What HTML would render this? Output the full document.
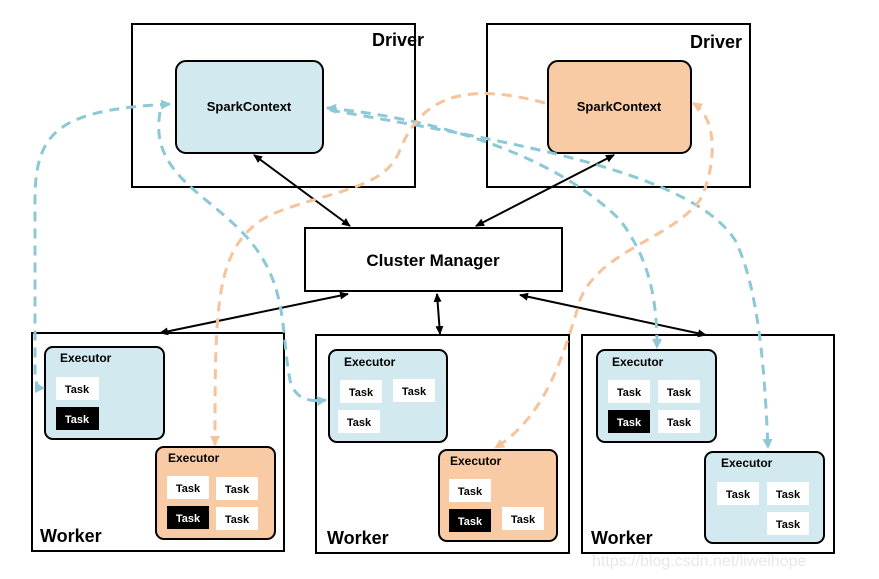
<!DOCTYPE html>
<html><head><meta charset="utf-8"><style>
html,body{margin:0;padding:0;background:#fff}
svg{display:block}
text{font-family:"Comic Sans MS","Liberation Sans",sans-serif;font-weight:bold;fill:#000}
</style></head><body>
<svg width="879" height="579" viewBox="0 0 879 579" xmlns="http://www.w3.org/2000/svg">
<defs>
<marker id="ab" markerWidth="10" markerHeight="10" refX="8" refY="5" orient="auto-start-reverse" markerUnits="userSpaceOnUse"><path d="M0,1 L9,5 L0,9 Z" fill="#000"/></marker>
<marker id="mb" markerWidth="12" markerHeight="12" refX="9" refY="6" orient="auto-start-reverse" markerUnits="userSpaceOnUse"><path d="M0,1 L10,6 L0,11 Z" fill="#8cc8d6"/></marker>
<marker id="mo" markerWidth="12" markerHeight="12" refX="9" refY="6" orient="auto-start-reverse" markerUnits="userSpaceOnUse"><path d="M0,1 L10,6 L0,11 Z" fill="#f6c39b"/></marker>
</defs>
<g fill="none" stroke="#000" stroke-width="2">
<rect x="132" y="24" width="283" height="163"/>
<rect x="487" y="24" width="263" height="163"/>
<rect x="305" y="228" width="257" height="63"/>
<rect x="32" y="333" width="252" height="218"/>
<rect x="316" y="335" width="253" height="218"/>
<rect x="582" y="335" width="252" height="218"/>
</g>
<rect x="176" y="61" width="147" height="92" rx="10" fill="#d2e9f0" stroke="#000" stroke-width="2"/>
<rect x="548" y="61" width="143" height="92" rx="10" fill="#f8cba5" stroke="#000" stroke-width="2"/>
<text x="372" y="46" font-size="18">Driver</text>
<text x="690" y="48" font-size="18">Driver</text>
<text x="249" y="111" font-size="13" text-anchor="middle">SparkContext</text>
<text x="619" y="111" font-size="13" text-anchor="middle">SparkContext</text>
<text x="433" y="266" font-size="17" text-anchor="middle">Cluster Manager</text>
<text x="40" y="542" font-size="18">Worker</text>
<text x="327" y="544" font-size="18">Worker</text>
<text x="591" y="544" font-size="18">Worker</text>
<g stroke="#000" stroke-width="2">
<rect x="45" y="347" width="119" height="92" rx="8" fill="#d2e9f0"/>
<rect x="156" y="447" width="119" height="92" rx="8" fill="#f8cba5"/>
<rect x="329" y="350" width="118" height="92" rx="8" fill="#d2e9f0"/>
<rect x="439" y="450" width="118" height="91" rx="8" fill="#f8cba5"/>
<rect x="597" y="350" width="119" height="92" rx="8" fill="#d2e9f0"/>
<rect x="705" y="452" width="119" height="91" rx="8" fill="#d2e9f0"/>
</g>
<g font-size="12">
<text x="60" y="362">Executor</text>
<text x="168" y="462">Executor</text>
<text x="344" y="366">Executor</text>
<text x="450" y="465">Executor</text>
<text x="612" y="366">Executor</text>
<text x="721" y="467">Executor</text>
</g>
<g fill="#fff">
<rect x="56" y="377" width="43" height="23"/>
<rect x="167" y="476" width="42" height="23"/><rect x="216" y="477" width="42" height="23"/><rect x="216" y="507" width="42" height="23"/>
<rect x="340" y="380" width="42" height="23"/><rect x="393" y="379" width="42" height="23"/><rect x="338" y="410" width="42" height="23"/>
<rect x="449" y="479" width="42" height="23"/><rect x="502" y="507" width="42" height="23"/>
<rect x="608" y="380" width="42" height="23"/><rect x="658" y="380" width="42" height="23"/><rect x="658" y="410" width="42" height="23"/>
<rect x="717" y="482" width="42" height="23"/><rect x="767" y="482" width="42" height="23"/><rect x="767" y="512" width="42" height="23"/>
</g>
<g fill="#000">
<rect x="56" y="407" width="43" height="23"/>
<rect x="167" y="506" width="42" height="23"/>
<rect x="449" y="509" width="42" height="23"/>
<rect x="608" y="410" width="42" height="23"/>
</g>
<g font-size="11" text-anchor="middle">
<text x="77" y="393">Task</text><text x="77" y="423" style="fill:#fff">Task</text>
<text x="188" y="492">Task</text><text x="237" y="493">Task</text><text x="188" y="522" style="fill:#fff">Task</text><text x="237" y="523">Task</text>
<text x="361" y="396">Task</text><text x="414" y="395">Task</text><text x="359" y="426">Task</text>
<text x="470" y="495">Task</text><text x="470" y="525" style="fill:#fff">Task</text><text x="523" y="523">Task</text>
<text x="629" y="396">Task</text><text x="679" y="396">Task</text><text x="629" y="426" style="fill:#fff">Task</text><text x="679" y="426">Task</text>
<text x="738" y="498">Task</text><text x="788" y="498">Task</text><text x="788" y="528">Task</text>
</g>
<g stroke="#000" stroke-width="2" fill="none">
<line x1="254" y1="155" x2="350" y2="226" marker-start="url(#ab)" marker-end="url(#ab)"/>
<line x1="614" y1="155" x2="476" y2="226" marker-start="url(#ab)" marker-end="url(#ab)"/>
<line x1="348" y1="294" x2="160" y2="333" marker-start="url(#ab)" marker-end="url(#ab)"/>
<line x1="437" y1="294" x2="440" y2="334" marker-start="url(#ab)" marker-end="url(#ab)"/>
<line x1="520" y1="295" x2="706" y2="335" marker-start="url(#ab)" marker-end="url(#ab)"/>
</g>
<g fill="none" stroke-width="3" stroke-dasharray="10,7">
<path d="M170,104 C60,110 35,130 35,200 L35,370 C35,385 38,388 44,388" stroke="#8cc8d6" marker-end="url(#mb)" marker-start="url(#mb)"/>
<path d="M160,112 C150,170 200,190 240,230 C290,280 280,330 290,380 C295,400 310,402 326,400" stroke="#8cc8d6" marker-end="url(#mb)"/>
<path d="M327,108 C450,120 560,160 620,220 C650,260 657,300 657,348" stroke="#8cc8d6" marker-end="url(#mb)" marker-start="url(#mb)"/>
<path d="M330,110 C500,140 690,170 735,240 C760,290 765,380 768,448" stroke="#8cc8d6" marker-end="url(#mb)"/>
<path d="M545,103 C460,80 420,100 400,150 C385,190 330,190 270,215 C215,245 215,300 215,445" stroke="#f6c39b" marker-end="url(#mo)"/>
<path d="M693,103 C720,120 715,170 700,200 C670,240 600,250 580,300 C560,370 540,420 495,448" stroke="#f6c39b" marker-end="url(#mo)" marker-start="url(#mo)"/>
</g>
<text x="592" y="566" font-size="16" style="fill:#e8e8e8;font-family:'Liberation Sans',sans-serif;font-weight:normal">https://blog.csdn.net/liweihope</text>
</svg>
</body></html>
